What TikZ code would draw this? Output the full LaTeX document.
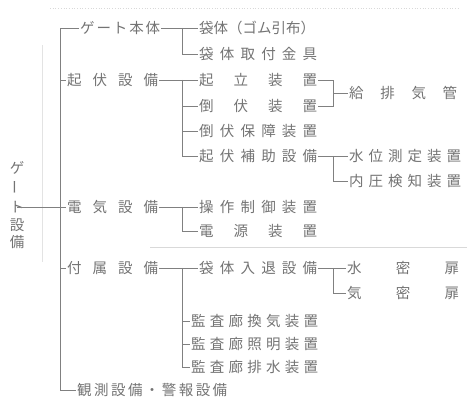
\documentclass[tikz,border=0pt]{standalone}
\usepackage{fontspec}
\setmainfont{Noto Sans CJK JP}
\usepackage{graphicx}
\definecolor{ink}{gray}{0.45}
\definecolor{rulec}{gray}{0.5}
\newcommand\lbl[2]{\hbox to #1{\spaceskip=0pt plus 1fil\relax #2}}
\begin{document}
\begin{tikzpicture}[x=1pt,y=-1pt,
  every node/.style={inner xsep=1pt, inner ysep=0pt, text=ink, font=\fontsize{14.5}{17}\selectfont},
  lab/.style={anchor=west},
  rootch/.style={anchor=center},
  con/.style={draw=rulec, line width=0.8pt},
  faint/.style={draw=gray!30, line width=0.7pt}]
\useasboundingbox (0,0) rectangle (467,406);
% scan artefacts
\draw[faint, dotted] (50,8) -- (460,8);
\draw[faint] (150,247) -- (467,247);
\draw[draw=gray!22, line width=0.6pt] (42,45) -- (42,262);
% help coordinates
\coordinate (tr) at (60,0);
\coordinate (b2) at (182,0);
\coordinate (b3) at (333,0);
% root
\node[rootch] (r1) at (17,168) {ゲ};
\node[rootch] (r2) at (17,187) {\rotatebox[origin=c]{90}{ー}};
\node[rootch] (r3) at (17,207) {ト};
\node[rootch] (r4) at (17,225) {設};
\node[rootch] (r5) at (17,242) {備};
% level 1
\node[lab] (g) at (79,28) {\lbl{80pt}{ゲ ー ト 本 体}};
\node[lab] (k) at (66,80) {\lbl{91pt}{起 伏 設 備}};
\node[lab] (d) at (66,207) {\lbl{91pt}{電 気 設 備}};
\node[lab] (f) at (66,268) {\lbl{91pt}{付 属 設 備}};
\node[lab] (m) at (76,390) {\lbl{150pt}{観 測 設 備 ・ 警 報 設 備}};
% level 2
\node[lab] (g1) at (198,28) {袋体（ゴム引布）};
\node[lab] (g2) at (198,54) {\lbl{118pt}{袋 体 取 付 金 具}};
\node[lab] (k1) at (198,80) {\lbl{118pt}{起 立 装 置}};
\node[lab] (k2) at (198,106) {\lbl{118pt}{倒 伏 装 置}};
\node[lab] (k3) at (198,131) {\lbl{118pt}{倒 伏 保 障 装 置}};
\node[lab] (k4) at (198,156) {\lbl{118pt}{起 伏 補 助 設 備}};
\node[lab] (d1) at (198,207) {\lbl{118pt}{操 作 制 御 装 置}};
\node[lab] (d2) at (198,231) {\lbl{118pt}{電 源 装 置}};
\node[lab] (f1) at (198,268) {\lbl{118pt}{袋 体 入 退 設 備}};
\node[lab] (f2) at (190,321) {\lbl{127pt}{監 査 廊 換 気 装 置}};
\node[lab] (f3) at (190,344) {\lbl{127pt}{監 査 廊 照 明 装 置}};
\node[lab] (f4) at (190,367) {\lbl{127pt}{監 査 廊 排 水 装 置}};
% level 3
\node[lab] (q) at (348,93) {\lbl{108pt}{給 排 気 管}};
\node[lab] (s1) at (348,156) {\lbl{112pt}{水 位 測 定 装 置}};
\node[lab] (s2) at (348,181) {\lbl{112pt}{内 圧 検 知 装 置}};
\node[lab] (w1) at (346,268) {\lbl{112pt}{水 密 扉}};
\node[lab] (w2) at (346,293) {\lbl{112pt}{気 密 扉}};
% root connector and trunk
\draw[con] (r3.center) -- (d.west -| tr);
\draw[con] (g.west) -- (g.west -| tr) -- (m.west -| tr) -- (m.west);
\draw[con] (k.west -| tr) -- (k.west);
\draw[con] (d.west -| tr) -- (d.west);
\draw[con] (f.west -| tr) -- (f.west);
% ゲート本体
\draw[con] (g.east) -- (g1.west);
\draw[con] (g1.west -| b2) |- (g2.west);
% 起伏設備
\draw[con] (k.east) -- (k1.west);
\draw[con] (k1.west -| b2) |- (k4.west);
\draw[con] (k2.west -| b2) -- (k2.west);
\draw[con] (k3.west -| b2) -- (k3.west);
\draw[con] (k1.east) -- (k1.east -| b3) -- (k2.east -| b3) -- (k2.east);
\draw[con] (q.west -| b3) -- (q.west);
\draw[con] (k4.east) -- (s1.west);
\draw[con] (s1.west -| b3) |- (s2.west);
% 電気設備
\draw[con] (d.east) -- (d1.west);
\draw[con] (d1.west -| b2) |- (d2.west);
% 付属設備
\draw[con] (f.east) -- (f1.west);
\draw[con] (f1.west -| b2) |- (f4.west);
\draw[con] (f2.west -| b2) -- (f2.west);
\draw[con] (f3.west -| b2) -- (f3.west);
\draw[con] (f1.east) -- (w1.west);
\draw[con] (w1.west -| b3) |- (w2.west);
\end{tikzpicture}
\end{document}
